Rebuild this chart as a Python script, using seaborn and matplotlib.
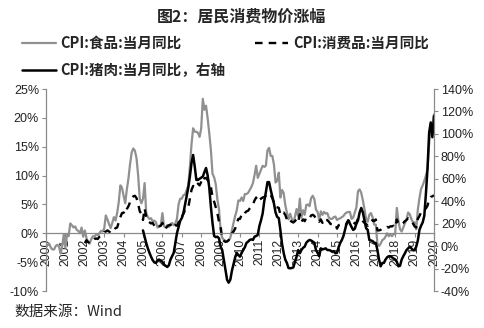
import numpy as np
import pandas as pd
import matplotlib
matplotlib.use("Agg")
import matplotlib.pyplot as plt
import seaborn as sns
from matplotlib.lines import Line2D

# ---------------- data (monthly, yoy %) ----------------
years = list(range(2000, 2021))

food_cpi = [
    -2.4, -2.0, -1.8, -2.5, -2.8, -2.8, -2.2, -2.0, -2.3, -3.5, -2.3, -0.2,   # 2000
    -2.5, -0.3, -0.5, 1.7, 1.4, 1.0, 1.2, 0.6, 0.4, 0.0, 1.0, -0.6,           # 2001
    0.5, -0.8, -1.5, -1.8, -1.0, -0.5, -0.6, -0.2, -0.3, 0.0, 0.4, 0.3,       # 2002
    0.8, 3.1, 2.4, 1.6, 0.9, 1.8, 2.8, 2.2, 3.5, 5.4, 8.3, 7.9,               # 2003
    6.5, 5.2, 7.6, 9.5, 12.0, 14.0, 14.7, 14.3, 13.0, 10.0, 6.0, 5.2,         # 2004
    6.0, 8.7, 3.5, 2.8, 2.5, 2.6, 2.0, 2.2, 1.9, 1.0, 1.3, 1.4,               # 2005
    3.5, 1.2, 1.0, 1.4, 1.1, 1.5, 1.8, 1.4, 1.7, 2.5, 5.0, 6.0,               # 2006
    6.0, 6.6, 6.7, 7.5, 8.3, 11.5, 15.4, 18.2, 17.6, 17.6, 17.4, 16.7,        # 2007
    18.2, 23.3, 21.4, 22.1, 19.9, 17.3, 14.4, 10.3, 9.7, 8.5, 5.9, 4.2,       # 2008
    0.5, -0.8, -1.1, -1.3, -1.5, -1.2, -0.8, 0.5, 1.8, 3.0, 4.0, 5.7,         # 2009
    5.6, 6.2, 5.6, 6.8, 6.8, 7.0, 7.5, 8.0, 8.7, 10.1, 11.7, 9.6,             # 2010
    10.3, 11.0, 11.7, 11.5, 11.7, 14.4, 14.8, 13.4, 13.4, 11.9, 8.8, 9.1,     # 2011
    10.5, 6.2, 7.5, 7.0, 4.9, 3.6, 2.4, 3.4, 2.5, 1.8, 2.9, 4.2,              # 2012
    2.9, 6.0, 2.7, 4.0, 3.2, 4.9, 5.0, 4.7, 6.1, 6.5, 5.9, 4.1,               # 2013
    3.7, 2.3, 3.8, 3.2, 3.7, 3.4, 3.5, 2.7, 2.5, 2.5, 2.8, 2.9,               # 2014
    2.3, 2.5, 2.6, 2.8, 3.0, 3.4, 3.6, 3.7, 3.7, 2.5, 2.7, 3.6,               # 2015
    4.5, 7.3, 7.6, 7.0, 5.7, 4.2, 2.5, 2.0, 3.2, 3.5, 2.8, 1.5,               # 2016
    1.5, -1.8, -2.2, -1.8, -1.2, -1.0, -0.6, 0.0, -0.5, -0.2, -0.5, -0.2,     # 2017
    0.0, 4.4, 2.1, 0.7, 0.3, 1.0, 1.7, 2.4, 3.6, 3.3, 2.5, 1.9,               # 2018
    1.9, 0.7, 4.1, 6.1, 7.7, 8.3, 9.1, 10.0, 11.2, 15.5, 19.1, 17.4,          # 2019
    20.6,                                                                      # 2020-01
]

goods_cpi = [  # starts 2002-01
    -1.7, -1.2, -1.5, -1.7, -1.6, -1.4, -1.0, -0.9, -1.0, -0.6, -0.4, -0.3,   # 2002
    0.2, 0.3, 0.5, 0.3, 0.1, 0.1, 0.5, 0.9, 1.0, 1.9, 2.8, 3.5,               # 2003
    3.6, 3.3, 4.2, 4.7, 5.4, 6.0, 6.4, 6.5, 6.1, 5.1, 3.8, 3.4,               # 2004
    2.3, 4.3, 2.9, 2.1, 1.9, 1.7, 1.8, 1.3, 0.9, 1.2, 1.2, 1.3,               # 2005
    1.8, 0.8, 0.8, 1.2, 1.4, 1.5, 0.9, 1.2, 1.4, 1.3, 1.9, 2.8,               # 2006
    2.8, 3.4, 4.0, 4.0, 4.5, 6.0, 7.5, 8.2, 7.9, 8.0, 8.6, 8.3,               # 2007
    8.9, 9.8, 9.5, 9.6, 9.2, 8.8, 8.0, 6.3, 5.5, 4.5, 3.5, 2.0,               # 2008
    1.2, -1.0, -1.3, -1.5, -1.4, -1.2, -0.5, 0.0, 0.3, 0.8, 1.8, 2.5,         # 2009
    2.5, 3.2, 3.0, 3.5, 3.8, 3.9, 4.3, 4.7, 5.0, 5.7, 6.2, 5.5,               # 2010
    5.8, 6.0, 6.2, 6.3, 6.5, 6.9, 6.9, 6.6, 6.1, 5.3, 4.6, 4.5,               # 2011
    4.4, 3.2, 3.6, 3.6, 3.2, 2.4, 1.9, 2.2, 2.0, 1.9, 2.1, 2.5,               # 2012
    2.0, 3.3, 2.0, 2.4, 2.1, 2.7, 2.8, 2.6, 3.1, 3.2, 3.0, 2.5,               # 2013
    2.5, 2.0, 2.4, 1.8, 2.5, 2.3, 2.3, 2.0, 1.6, 1.6, 1.5, 1.6,               # 2014
    0.8, 1.4, 1.5, 1.5, 1.3, 1.4, 1.6, 2.2, 1.9, 1.4, 1.5, 1.8,               # 2015
    1.8, 2.6, 2.6, 2.5, 2.1, 1.8, 1.6, 1.3, 1.9, 2.0, 2.3, 2.1,               # 2016
    2.4, 0.5, 0.5, 0.6, 0.8, 0.8, 0.9, 1.1, 1.0, 1.2, 1.2, 1.3,               # 2017
    1.0, 2.4, 1.7, 1.5, 1.6, 1.8, 2.1, 2.3, 2.6, 2.5, 2.1, 1.7,               # 2018
    1.2, 1.0, 2.5, 3.0, 3.6, 3.8, 4.2, 4.3, 4.8, 5.9, 6.3, 6.4,               # 2019
    6.6,                                                                       # 2020-01
]

pork_cpi = [  # starts 2005-01, right axis
    14.0, 8.4, 2.7, -2.0, -6.0, -9.5, -12.5, -14.5, -15.0, -12.5, -12.0, -13.0,   # 2005
    -14.0, -16.5, -17.5, -18.6, -17.0, -12.0, -9.0, -6.0, 3.0, 11.5, 17.0, 22.5,  # 2006
    25.0, 29.5, 37.0, 44.0, 52.0, 62.0, 74.0, 81.2, 71.0, 59.0, 59.0, 60.0,       # 2007
    61.0, 62.0, 66.0, 69.6, 63.0, 52.0, 35.0, 20.6, 9.0, 8.0, 8.4, 7.0,           # 2008
    -0.5, -3.5, -12.0, -21.0, -30.0, -32.6, -30.0, -22.0, -16.0, -10.0, -6.0, -8.0,  # 2009
    -9.4, -6.0, -3.5, -1.0, 2.8, 4.0, 5.5, 6.0, 5.5, 8.4, 9.0, 10.0,              # 2010
    18.0, 23.0, 29.0, 40.0, 48.0, 57.0, 57.0, 50.0, 44.0, 38.0, 30.0, 26.0,       # 2011
    25.0, 14.0, 2.0, -6.0, -12.0, -15.0, -19.5, -19.8, -19.5, -19.0, -14.0, -9.4, # 2012
    -3.5, -6.4, -3.5, -1.5, -0.5, 3.0, 4.5, 5.5, 5.0, 4.0, 3.0, -3.5,             # 2013
    -6.0, -9.0, -2.0, -3.0, -2.5, -2.0, -3.5, -3.5, -4.0, -5.0, -4.5, -6.4,       # 2014
    -6.0, -1.0, 2.8, 5.5, 9.0, 15.0, 20.6, 23.0, 20.0, 17.0, 14.4, 15.5,          # 2015
    20.0, 23.0, 30.0, 34.0, 30.0, 23.0, 16.0, 14.4, 5.5, 5.0, 4.5, 3.0,           # 2016
    2.8, -3.5, -12.0, -18.0, -15.0, -15.0, -12.0, -10.0, -9.0, -9.0, -10.0, -11.0,  # 2017
    -12.0, -14.0, -18.0, -17.5, -12.0, -9.0, -6.4, -3.5, -2.0, -0.5, -2.0, -3.5,  # 2018
    -3.5, -0.5, 5.1, 14.4, 18.2, 21.1, 27.0, 46.7, 69.3, 101.3, 110.2, 97.0,      # 2019
    116.0,                                                                         # 2020-01
]

title_text = "图2：居民消费物价涨幅"
labels = ["CPI:食品:当月同比", "CPI:消费品:当月同比", "CPI:猪肉:当月同比，右轴"]
source_text = "数据来源：Wind"

# ---------------- frames ----------------
food_df = pd.DataFrame({"m": np.arange(len(food_cpi)), "v": food_cpi})
goods_df = pd.DataFrame({"m": np.arange(len(goods_cpi)) + 24, "v": goods_cpi})
pork_df = pd.DataFrame({"m": np.arange(len(pork_cpi)) + 60, "v": pork_cpi})

sns.set_theme(style="white")
plt.rcParams["font.family"] = ["Liberation Sans", "Noto Sans CJK SC", "DejaVu Sans"]
plt.rcParams["axes.unicode_minus"] = True

W, H = 484, 328
fig = plt.figure(figsize=(W / 100, H / 100), dpi=100)
ax = fig.add_axes([46 / W, 1 - 291 / H, (434 - 46) / W, (291 - 89) / H])
ax2 = ax.twinx()

GRAY = "#909090"
AX_GRAY = "#8a8a8a"
DASH = (0, (3.2, 2.6))

sns.lineplot(data=food_df, x="m", y="v", ax=ax, color=GRAY, linewidth=1.6, legend=False)
sns.lineplot(data=goods_df, x="m", y="v", ax=ax, color="black", linewidth=1.7,
             linestyle=DASH, legend=False)
sns.lineplot(data=pork_df, x="m", y="v", ax=ax2, color="black", linewidth=1.8, legend=False)

ax.set_xlim(0, 240)
ax.set_ylim(-10, 25)
ax2.set_ylim(-40, 140)
ax.set_xlabel("")
ax.set_ylabel("")
ax2.set_ylabel("")

ax.set_yticks(np.arange(-10, 26, 5))
ax.set_yticklabels([f"{v}%" for v in range(-10, 26, 5)])
ax2.set_yticks(np.arange(-40, 141, 20))
ax2.set_yticklabels([f"{v}%" for v in range(-40, 141, 20)])

ax.set_xticks([12 * i for i in range(len(years))])
ax.set_xticklabels([str(y) for y in years])

for a in (ax, ax2):
    for s in a.spines.values():
        s.set_color(AX_GRAY)
        s.set_linewidth(0.9)
    a.spines["top"].set_visible(False)
ax.spines["right"].set_visible(False)
ax2.spines["left"].set_visible(False)
ax2.spines["bottom"].set_visible(False)
ax.spines["bottom"].set_position(("data", 0))

ax.tick_params(axis="y", which="both", left=True, length=3, width=0.8, color=AX_GRAY,
               labelsize=9, labelcolor="#222222", pad=2)
ax2.tick_params(axis="y", which="both", right=True, length=3, width=0.8, color=AX_GRAY,
                labelsize=9, labelcolor="#222222", pad=2)
ax.tick_params(axis="x", bottom=True, length=3, width=0.8, color=AX_GRAY,
               labelsize=8.8, labelcolor="#222222", pad=1, labelrotation=90)
for t in ax.get_xticklabels():
    t.set_rotation(90)
    t.set_ha("center")
    t.set_va("top")
ax.grid(False)
ax2.grid(False)

# legend
handles = [
    Line2D([], [], color=GRAY, lw=1.6),
    Line2D([], [], color="black", lw=1.8),
    Line2D([], [], color="black", lw=1.7, linestyle=DASH),
]
hl = [labels[0], labels[2], labels[1]]
fig.legend(handles, hl, ncol=2, loc="upper left", bbox_to_anchor=(22 / W, 1 - 35 / H),
           frameon=False, handlelength=2.3, handletextpad=0.35, columnspacing=2.0,
           labelspacing=0.75, borderaxespad=0, borderpad=0,
           prop={"family": ["Noto Sans CJK SC", "DejaVu Sans"], "weight": "bold", "size": 10.5})

fig.text(0.5, 1 - 17 / H, title_text, ha="center", va="center",
         family=["Noto Sans CJK SC", "DejaVu Sans"], fontweight="bold", fontsize=11.5)
fig.text(14 / W, 1 - 312 / H, source_text, ha="left", va="center",
         family=["Noto Sans CJK SC", "DejaVu Sans"], fontsize=10.5)

fig.savefig("out.png", dpi=100)
